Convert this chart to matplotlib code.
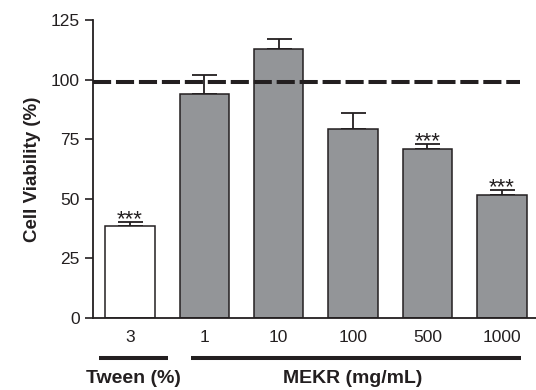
import numpy as np
import matplotlib.pyplot as plt

plt.rcParams['font.family'] = ['Liberation Sans', 'DejaVu Sans']

# data
labels = ['3', '1', '10', '100', '500', '1000']
viability = [38.6, 93.9, 112.8, 79.3, 70.8, 51.6]
err = [1.4, 7.9, 4.1, 6.6, 2.1, 2.0]
signif = ['***', '', '', '', '***', '***']
colors = ['white', '#939598', '#939598', '#939598', '#939598', '#939598']
control = 99
groups = ['Tween (%)', 'MEKR (mg/mL)']
group_idx = [[0], [1, 2, 3, 4, 5]]

x = np.arange(len(labels))
ink = '#231f20'

fig = plt.figure(figsize=(5.36, 3.90), dpi=100)
ax = fig.add_axes([0.173, 0.1854, 0.827, 0.7633])

ax.bar(x, viability, width=0.665, color=colors, edgecolor=ink, linewidth=1.1, zorder=2)
# one-sided error bars (upper only)
ax.errorbar(x, viability, yerr=[np.zeros(len(err)), err], fmt='none',
            ecolor=ink, elinewidth=1.3, capsize=9, capthick=1.3, zorder=1)

for xi, v, e, s in zip(x, viability, err, signif):
    if s:
        ax.text(xi, v + e - 1.2, s, ha='center', va='baseline', fontsize=16, color=ink)

ax.plot([-0.5, 5.24], [control, control], color=ink, linewidth=2.9,
        dashes=(4.5, 1.2), zorder=3)

ax.set_xlim(-0.5, 5.46)
ax.set_ylim(0, 125)
ax.set_yticks([0, 25, 50, 75, 100, 125])
ax.set_xticks(x)
ax.set_xticklabels(labels)
ax.tick_params(axis='x', length=0, pad=9, labelsize=12.5, colors=ink)
ax.tick_params(axis='y', length=5.5, width=1.2, pad=4, labelsize=12.5, colors=ink)
for side in ['top', 'right']:
    ax.spines[side].set_visible(False)
for side in ['left', 'bottom']:
    ax.spines[side].set_linewidth(1.3)
    ax.spines[side].set_color(ink)

ax.set_ylabel('Cell Viability (%)', fontsize=13.5, fontweight='bold', labelpad=7, color=ink)

# group lines and labels under the x axis
trans = ax.get_xaxis_transform()
pads = [(0.42, 0.515), (0.176, 0.265)]
for name, idx, (pl, pr) in zip(groups, group_idx, pads):
    x0, x1 = idx[0] - pl, idx[-1] + pr
    ax.plot([x0, x1], [-0.134, -0.134], color=ink, linewidth=2.9,
            transform=trans, clip_on=False, solid_capstyle='butt')
    ax.text((idx[0] + idx[-1]) / 2 + (0.05 if len(idx) == 1 else 0.0), -0.203, name,
            transform=trans, ha='center', va='center', fontsize=14,
            fontweight='bold', color=ink)

fig.savefig('out.png', dpi=100)
